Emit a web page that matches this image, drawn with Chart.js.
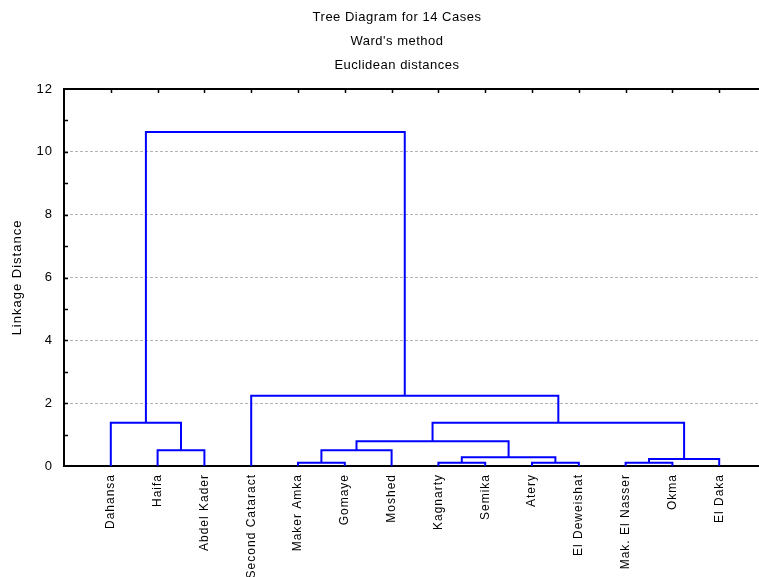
<!DOCTYPE html>
<html>
<head>
<meta charset="utf-8">
<title>Tree Diagram for 14 Cases</title>
<script src="https://cdn.jsdelivr.net/npm/chart.js@4"></script>
<style>
    html, body { margin: 0; padding: 0; background: #fff; overflow: hidden; }
    #wrap { width: 794px; height: 577px; }
</style>
</head>
<body>
<div id="wrap"><canvas id="tree"></canvas></div>
<script>
// Leaves in plotted order (left to right)
const leaves = ['Dahansa', 'Haifa', 'Abdel Kader', 'Second Cataract', 'Maker Amka', 'Gomaye', 'Moshed',
    'Kagnarty', 'Semika', 'Atery', 'El Deweishat', 'Mak. El Nasser', 'Okma', 'El Daka'];

// Joining steps: ids 0..13 are leaves, each step creates cluster 14, 15, ...
const joinLeft   = [4, 7, 9, 11, 17, 15, 1, 14, 21, 0, 22, 3, 23];
const joinRight  = [5, 8, 10, 12, 13, 16, 2, 6, 19, 20, 18, 24, 25];
const joinHeight = [0.10, 0.10, 0.10, 0.10, 0.22, 0.28, 0.50, 0.50, 0.79, 1.38, 1.38, 2.24, 10.63];

const titleLines = ['Tree Diagram for 14 Cases', "Ward's method", 'Euclidean distances'];
const yTicks = [0, 2, 4, 6, 8, 10, 12];

const FONT = '"Liberation Sans", Arial, sans-serif';

// x position / height of every node, leaves sit at 1..n on the linear x axis
const nodeX = leaves.map((_, i) => i + 1);
const nodeH = leaves.map(() => 0);

const links = joinLeft.map((a, k) => {
    const b = joinRight[k];
    const h = joinHeight[k];
    nodeX.push((nodeX[a] + nodeX[b]) / 2);
    nodeH.push(h);
    return {
        data: [
            { x: nodeX[a], y: nodeH[a] },
            { x: nodeX[a], y: h },
            { x: nodeX[b], y: h },
            { x: nodeX[b], y: nodeH[b] }
        ],
        showLine: true,
        borderColor: '#0000ff',
        borderWidth: 2,
        pointRadius: 0,
        tension: 0,
        fill: false
    };
});

// wider letter spacing for all axis text
const spacing = {
    id: 'spacing',
    beforeDraw(chart) { chart.ctx.letterSpacing = '1px'; }
};

// three title lines centred on the page
const heading = {
    id: 'heading',
    afterDraw(chart) {
        const ctx = chart.ctx;
        ctx.save();
        ctx.letterSpacing = '0.5px';
        ctx.fillStyle = '#000';
        ctx.font = '13px ' + FONT;
        ctx.textAlign = 'center';
        ctx.textBaseline = 'middle';
        titleLines.forEach((t, i) => ctx.fillText(t, 397, 17 + i * 24));
        ctx.restore();
    }
};

// top frame line with its tick marks, plus small inward ticks on the value axis
const frame = {
    id: 'frame',
    afterDraw(chart) {
        const { ctx, chartArea: a, scales } = chart;
        ctx.save();
        ctx.strokeStyle = '#000';
        ctx.lineWidth = 2;
        ctx.beginPath();
        ctx.moveTo(a.left, a.top);
        ctx.lineTo(a.right, a.top);
        ctx.stroke();
        ctx.lineWidth = 1.5;
        ctx.beginPath();
        nodeX.slice(0, leaves.length).forEach(v => {
            const px = Math.round(scales.x.getPixelForValue(v)) + 0.5;
            ctx.moveTo(px, a.top);
            ctx.lineTo(px, a.top + 4);
        });
        for (let v = 1; v < 12; v++) {
            const py = Math.round(scales.y.getPixelForValue(v)) + 0.5;
            ctx.moveTo(a.left, py);
            ctx.lineTo(a.left + 4, py);
        }
        ctx.stroke();
        ctx.restore();
    }
};

new Chart(document.getElementById('tree'), {
    type: 'scatter',
    data: { datasets: links },
    options: {
        responsive: true,
        maintainAspectRatio: false,
        animation: false,
        layout: { padding: { left: 0, right: 28, top: 89, bottom: 0 } },
        plugins: {
            legend: { display: false },
            tooltip: { enabled: false },
            title: { display: false }
        },
        scales: {
            x: {
                type: 'linear',
                min: 0,
                max: 15,
                afterBuildTicks: s => { s.ticks = nodeX.slice(0, leaves.length).map(v => ({ value: v })); },
                afterFit: s => { s.height = 111; },
                grid: { display: false },
                border: { color: '#000', width: 2 },
                ticks: {
                    autoSkip: false,
                    minRotation: 90,
                    maxRotation: 90,
                    padding: 0,
                    color: '#000',
                    font: { family: FONT, size: 12 },
                    callback: v => leaves[v - 1] || ''
                }
            },
            y: {
                min: 0,
                max: 12,
                afterBuildTicks: s => { s.ticks = yTicks.map(v => ({ value: v })); },
                afterFit: s => { s.width = 64; },
                grid: {
                    drawTicks: false,
                    color: c => (c.tick.value > 0 && c.tick.value < 12) ? '#b4b4b4' : 'rgba(0,0,0,0)',
                    lineWidth: 1
                },
                border: { color: '#000', width: 2, dash: [3, 2] },
                ticks: {
                    padding: 11,
                    color: '#000',
                    font: { family: FONT, size: 13 }
                },
                title: {
                    display: true,
                    text: 'Linkage Distance',
                    color: '#000',
                    font: { family: FONT, size: 13 },
                    padding: { top: 10, bottom: 0 }
                }
            }
        }
    },
    plugins: [spacing, heading, frame]
});
</script>
</body>
</html>
